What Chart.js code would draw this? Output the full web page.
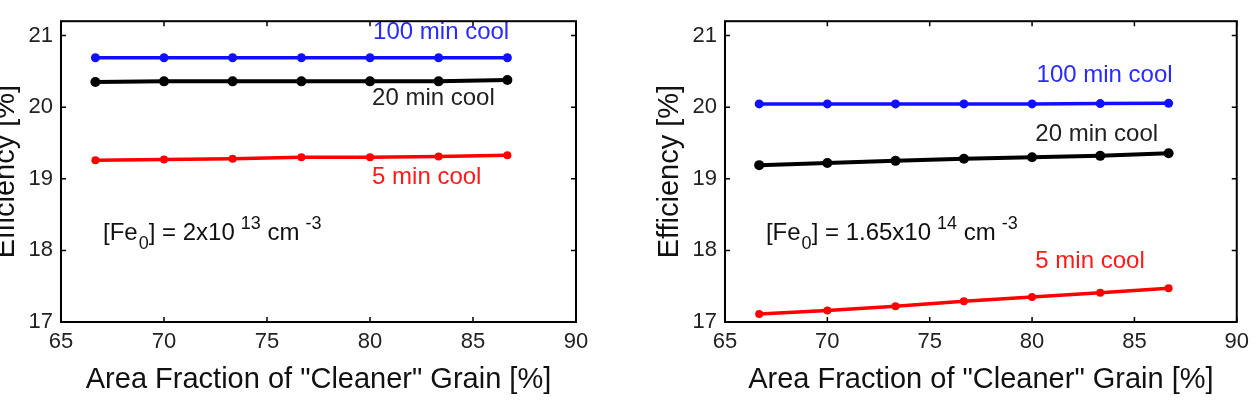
<!DOCTYPE html>
<html>
<head>
<meta charset="utf-8">
<script src="https://cdn.jsdelivr.net/npm/chart.js@4.4.0/dist/chart.umd.min.js"></script>
<style>
  html, body { margin: 0; padding: 0; background: #fff; overflow: hidden; }
  #wrap { position: relative; width: 1256px; height: 404px; overflow: hidden; }
  #box1 { position: absolute; left: -36px; top: 0; }
  #box2 { position: absolute; left: 628px; top: 0; }
</style>
</head>
<body>
<div id="wrap">
  <div id="box1"><canvas id="chart1" width="664" height="404"></canvas></div>
  <div id="box2"><canvas id="chart2" width="628" height="404"></canvas></div>
</div>
<script>
// x values: area fraction of the "cleaner" grain
const areaFraction = [66.67, 70, 73.33, 76.67, 80, 83.33, 86.67];
const xTicks = [65, 70, 75, 80, 85, 90];
const yTicks = [17, 18, 19, 20, 21];
const seriesNames = ["100 min cool", "20 min cool", "5 min cool"];

// left panel, [Fe0] = 2x10^13
const lowCool100 = [20.69, 20.69, 20.69, 20.69, 20.69, 20.69, 20.69];
const lowCool20 = [20.35, 20.36, 20.36, 20.36, 20.36, 20.36, 20.38];
const lowCool5 = [19.26, 19.27, 19.28, 19.30, 19.30, 19.31, 19.33];

// right panel, [Fe0] = 1.65x10^14
const highCool100 = [20.045, 20.045, 20.045, 20.045, 20.045, 20.05, 20.055];
const highCool20 = [19.19, 19.22, 19.25, 19.28, 19.30, 19.32, 19.355];
const highCool5 = [17.11, 17.16, 17.22, 17.29, 17.35, 17.41, 17.47];

const lowFeText = [["[Fe", "n"], ["0", "sub"], ["] = 2x10", "n"], ["13", "sup"], [" cm", "n"], ["-3", "sup"]];
const highFeText = [["[Fe", "n"], ["0", "sub"], ["] = 1.65x10", "n"], ["14", "sup"], [" cm", "n"], ["-3", "sup"]];

const FONT = '"Liberation Sans", Arial, Helvetica, sans-serif';
Chart.defaults.font.family = FONT;
Chart.defaults.color = "#222";

function pts(ys) {
  return areaFraction.map((x, i) => ({ x: x, y: ys[i] }));
}

// matlab style box with inward ticks
const boxPlugin = {
  id: "box",
  afterDraw(chart) {
    const { ctx, chartArea: a, scales } = chart;
    ctx.save();
    ctx.strokeStyle = "#000";
    ctx.lineWidth = 2;
    ctx.strokeRect(a.left, a.top, a.right - a.left, a.bottom - a.top);
    ctx.lineWidth = 1.5;
    ctx.beginPath();
    scales.x.ticks.forEach(t => {
      const px = scales.x.getPixelForValue(t.value);
      ctx.moveTo(px, a.bottom); ctx.lineTo(px, a.bottom - 5);
      ctx.moveTo(px, a.top); ctx.lineTo(px, a.top + 5);
    });
    scales.y.ticks.forEach(t => {
      const py = scales.y.getPixelForValue(t.value);
      ctx.moveTo(a.left, py); ctx.lineTo(a.left + 5, py);
      ctx.moveTo(a.right, py); ctx.lineTo(a.right - 5, py);
    });
    ctx.stroke();
    ctx.restore();
  }
};

// text labels inside the plot
const notePlugin = {
  id: "notes",
  afterDatasetsDraw(chart, args, opts) {
    const { ctx, scales: { x, y } } = chart;
    ctx.save();
    ctx.textAlign = "left";
    (opts.labels || []).forEach(n => {
      ctx.font = "24px " + FONT;
      ctx.fillStyle = n.color;
      ctx.textBaseline = "middle";
      ctx.fillText(n.text, x.getPixelForValue(n.x), y.getPixelForValue(n.y));
    });
    if (opts.rich) {
      let px = x.getPixelForValue(opts.rich.x);
      const base = y.getPixelForValue(opts.rich.y);
      ctx.fillStyle = "#111";
      ctx.textBaseline = "alphabetic";
      opts.rich.parts.forEach(([t, kind]) => {
        let dy = 0;
        if (kind === "n") {
          ctx.font = "24px " + FONT;
        } else {
          ctx.font = "18px " + FONT;
          dy = kind === "sup" ? -11 : 9;
          px += kind === "sup" ? 6 : 1;
        }
        ctx.fillText(t, px, base + dy);
        px += ctx.measureText(t).width;
      });
    }
    ctx.restore();
  }
};

function makeChart(id, series, labels, rich, padRight) {
  const colors = ["#1010ff", "#000000", "#ff0000"];
  const radii = [4.5, 5, 4];
  const widths = [3.5, 4, 3.5];
  return new Chart(document.getElementById(id).getContext("2d"), {
    type: "scatter",
    data: {
      datasets: series.map((s, i) => ({
        label: seriesNames[i],
        data: pts(s),
        showLine: true,
        borderColor: colors[i],
        backgroundColor: colors[i],
        borderWidth: widths[i],
        pointRadius: radii[i],
        pointBorderWidth: 0,
        pointBackgroundColor: colors[i],
      })),
    },
    options: {
      responsive: false,
      animation: false,
      layout: { padding: { left: 0, right: padRight, top: 15, bottom: 0 } },
      plugins: {
        legend: { display: false },
        tooltip: { enabled: false },
        notes: { labels: labels, rich: rich },
      },
      scales: {
        x: {
          type: "linear",
          min: 65,
          max: 90,
          afterBuildTicks: s => { s.ticks = xTicks.map(v => ({ value: v })); },
          afterFit: s => { s.height = 82; },
          grid: { display: false, drawTicks: false, tickLength: 0 },
          border: { display: false },
          ticks: { font: { size: 22 }, padding: 7, color: "#222", maxRotation: 0 },
          title: {
            display: true,
            text: 'Area Fraction of "Cleaner" Grain [%]',
            font: { size: 29 },
            color: "#111",
            padding: { top: 0, bottom: 7 },
          },
        },
        y: {
          type: "linear",
          min: 17,
          max: 21.2,
          afterBuildTicks: s => { s.ticks = yTicks.map(v => ({ value: v })); },
          afterFit: s => { s.width = 97; },
          grid: { display: false, drawTicks: false, tickLength: 0 },
          border: { display: false },
          ticks: { font: { size: 22 }, padding: 8, color: "#222" },
          title: {
            display: true,
            text: "Efficiency [%]",
            font: { size: 29 },
            color: "#111",
            padding: { top: 25, bottom: 0 },
          },
        },
      },
    },
    plugins: [boxPlugin, notePlugin],
  });
}

makeChart("chart1", [lowCool100, lowCool20, lowCool5], [
  { text: seriesNames[0], color: "#2a2aff", x: 80.15, y: 21.05 },
  { text: seriesNames[1], color: "#222", x: 80.1, y: 20.12 },
  { text: seriesNames[2], color: "#ff1a1a", x: 80.1, y: 19.02 },
], { x: 67.04, y: 18.15, parts: lowFeText }, 52);

makeChart("chart2", [highCool100, highCool20, highCool5], [
  { text: seriesNames[0], color: "#2a2aff", x: 80.22, y: 20.44 },
  { text: seriesNames[1], color: "#222", x: 80.16, y: 19.62 },
  { text: seriesNames[2], color: "#ff1a1a", x: 80.16, y: 17.85 },
], { x: 67.0, y: 18.15, parts: highFeText }, 18);
</script>
</body>
</html>
